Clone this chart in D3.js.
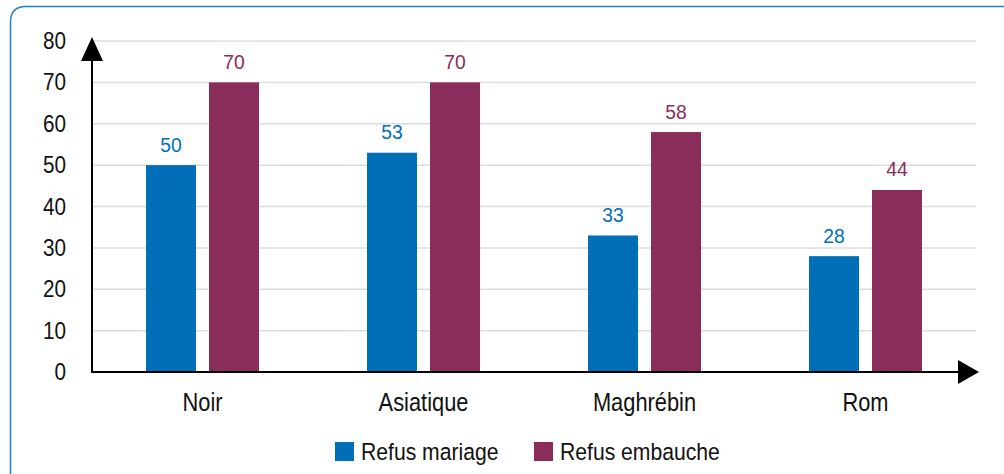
<!DOCTYPE html>
<html><head><meta charset="utf-8">
<script src="https://cdn.jsdelivr.net/npm/d3@7"></script>
<style>
body{margin:0;background:#fff;}
svg text{font-family:"Liberation Sans",Arial,sans-serif;font-weight:normal;}
</style></head>
<body><svg id="c" width="1004" height="474"></svg>
<script>
const categories = ["Noir","Asiatique","Maghrébin","Rom"];
const seriesNames = ["Refus mariage","Refus embauche"];
const refusMariage = [50,53,33,28];
const refusEmbauche = [70,70,58,44];
const yTicks = [0,10,20,30,40,50,60,70,80];
const colors = ["#006fb8","#8a2d5b"];

const svg = d3.select("#c");
function txt(parent, x, y, s, size, sx, anchor, color){
  return parent.append("text")
    .attr("transform",`translate(${x},${y}) scale(${sx},1)`)
    .attr("text-anchor",anchor).attr("font-size",size).attr("fill",color).text(s);
}
// frame
svg.append("path")
  .attr("d","M10.5,474 L10.5,22 Q10.5,6.5 26,6.5 L1010,6.5")
  .attr("fill","none").attr("stroke","#1b7fd0").attr("stroke-width",1.5);

const x0 = 92, y0 = 372;
const x = d3.scaleBand().domain(categories).range([92,976]).padding(0);
const y = d3.scaleLinear().domain([0,80]).range([372,41]);
const barW = 50, gap = 13;

// gridlines
svg.append("g").selectAll("line").data(yTicks.filter(d=>d>0)).join("line")
  .attr("x1",x0).attr("x2",976).attr("y1",d=>y(d)).attr("y2",d=>y(d))
  .attr("stroke","#dcdcdc").attr("stroke-width",1.5);

// y tick labels
const gy = svg.append("g");
yTicks.forEach(t=>txt(gy, 66, y(t)+8, t, 23, 0.9, "end", "#111"));

const g = svg.append("g");
categories.forEach((c,i)=>{
  const cx = x(c)+x.bandwidth()/2;
  [refusMariage[i], refusEmbauche[i]].forEach((v,j)=>{
    const bx = j===0 ? cx-gap/2-barW : cx+gap/2;
    g.append("rect").attr("x",bx).attr("y",y(v)).attr("width",barW).attr("height",y(0)-y(v))
      .attr("fill",colors[j]);
    txt(g, bx+barW/2, y(v)-13.5, v, 21, 0.92, "middle", colors[j]);
  });
  txt(g, cx, 411, c, 26, 0.84, "middle", "#111");
});

// axes
svg.append("line").attr("x1",x0).attr("x2",x0).attr("y1",y0+1).attr("y2",58)
  .attr("stroke","#000").attr("stroke-width",2);
svg.append("path").attr("d",`M${x0},37 L${x0-11},61 L${x0+11},61 Z`).attr("fill","#000");
svg.append("line").attr("x1",x0-1).attr("x2",962).attr("y1",y0).attr("y2",y0)
  .attr("stroke","#000").attr("stroke-width",2);
svg.append("path").attr("d",`M979,${y0} L958,${y0-12} L958,${y0+12} Z`).attr("fill","#000");

// legend
const leg = [{x:335,t:seriesNames[0],c:colors[0]},{x:534,t:seriesNames[1],c:colors[1]}];
leg.forEach(l=>{
  svg.append("rect").attr("x",l.x).attr("y",442).attr("width",19).attr("height",19).attr("fill",l.c);
  txt(svg, l.x+26, 460, l.t, 23.5, 0.9, "start", "#111");
});
</script></body></html>
